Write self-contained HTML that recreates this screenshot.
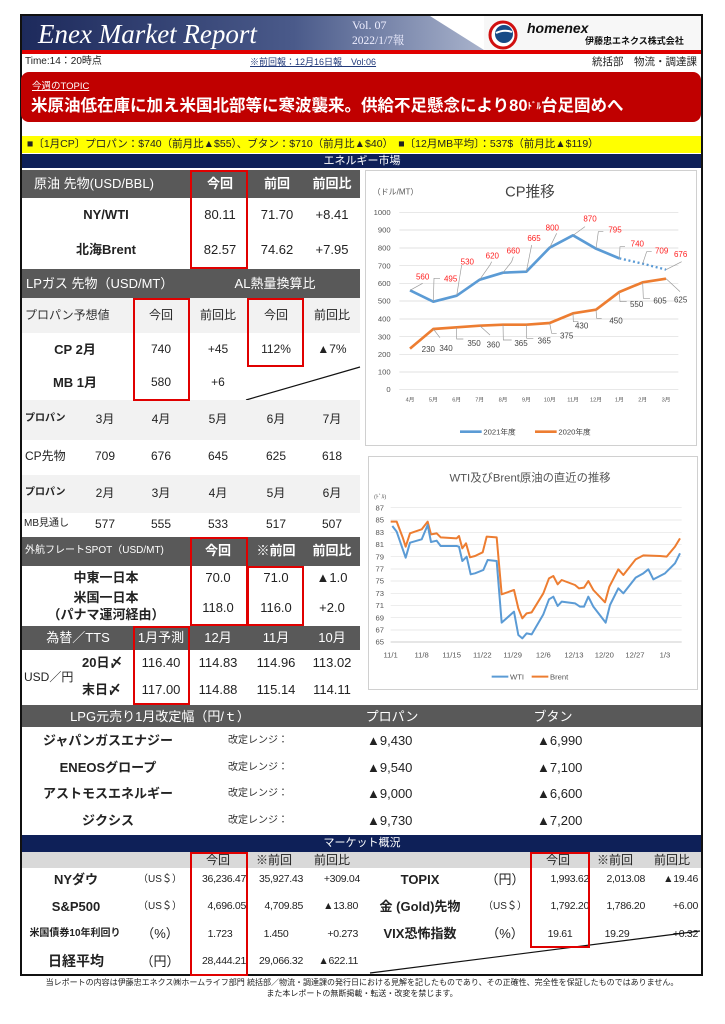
<!DOCTYPE html>
<html><head><meta charset="utf-8">
<style>
*{margin:0;padding:0;box-sizing:border-box}
body{width:725px;height:1024px;background:#fff;position:relative;overflow:hidden;font-family:"Liberation Sans","Noto Sans CJK JP",sans-serif;color:#222}
.a{position:absolute;white-space:nowrap}
.c{position:absolute;white-space:nowrap;transform:translateX(-50%)}
.r{position:absolute;white-space:nowrap;transform:translateX(-100%)}
.bg{position:absolute}
.hd{background:#595959;color:#fff}
.box{position:absolute;border:2px solid #e00000}
.t13{font-size:13px;line-height:16px}
.t12{font-size:12px;line-height:15px}
.b{font-weight:bold}
.m{font-size:10.5px;line-height:13px;letter-spacing:-0.3px}
</style></head><body>
<div class="bg" style="left:20px;top:14px;width:683px;height:962px;border:2px solid #111"></div>
<div class="bg" style="left:22px;top:16px;width:679px;height:34px;background:linear-gradient(90deg,#1d2a5c 0%,#4a5a8a 40%,#a9b3cc 68%,#c9cfdd 100%)"></div>
<svg class="bg" style="left:420px;top:16px" width="281" height="34"><polygon points="10,0 281,0 281,34 64,34" fill="#fff"/><rect x="64" y="0" width="217" height="34" fill="#f7f7f7"/></svg>
<div class="a" style="left:38px;top:18px;font-family:'Liberation Serif',serif;font-style:italic;font-size:27px;color:#fff;line-height:32px">Enex Market Report</div>
<div class="a" style="left:352px;top:18px;font-family:'Liberation Serif','Noto Serif CJK SC',serif;font-size:12px;color:#eef;line-height:14px">Vol. 07</div>
<div class="a" style="left:352px;top:34px;font-family:'Liberation Serif','Noto Serif CJK SC',serif;font-size:11.5px;color:#eef;line-height:14px">2022/1/7報</div>
<svg class="bg" style="left:488px;top:20px" width="30" height="30"><circle cx="15" cy="15" r="13" fill="#fff" stroke="#d01010" stroke-width="3"/><circle cx="16" cy="14" r="9" fill="#174a86"/><path d="M8 13 Q16 9 24 12" stroke="#fff" stroke-width="2" fill="none"/></svg>
<div class="a" style="left:527px;top:20px;font-size:14px;font-weight:bold;font-style:italic;color:#111;line-height:16px">homenex</div>
<div class="a" style="left:585px;top:36px;font-size:9px;font-weight:bold;color:#111;line-height:11px">伊藤忠エネクス株式会社</div>
<div class="bg" style="left:22px;top:50px;width:679px;height:4px;background:#e00000"></div>
<div class="a" style="left:25px;top:56px;font-size:10px;line-height:12px">Time:14：20時点</div>
<div class="a" style="left:250px;top:57px;font-size:9px;line-height:11px;color:#223a7a;text-decoration:underline">※前回報：12月16日報　Vol:06</div>
<div class="r" style="left:697px;top:56px;font-size:10.5px;line-height:12px">統括部　物流・調達課</div>
<div class="bg" style="left:21px;top:72px;width:680px;height:50px;background:#c00000;border-radius:8px"></div>
<div class="a" style="left:32px;top:81px;font-size:9.5px;line-height:11px;color:#fff;text-decoration:underline">今週のTOPIC</div>
<div class="a" style="left:31px;top:95px;font-size:16.5px;line-height:22px;color:#fff;font-weight:bold">米原油低在庫に加え米国北部等に寒波襲来。供給不足懸念により80<span style="font-size:9px;vertical-align:top">ﾄﾞﾙ</span>台足固めへ</div>
<div class="bg" style="left:22px;top:136px;width:679px;height:17px;background:#ffff00"></div>
<div class="a" style="left:27px;top:138px;font-size:10.5px;line-height:13px">■〔1月CP〕プロパン：$740（前月比▲$55）、ブタン：$710（前月比▲$40）　■〔12月MB平均〕：537$（前月比▲$119）</div>
<div class="bg" style="left:22px;top:154px;width:679px;height:14px;background:#0e2058"></div>
<div class="c" style="left:362px;top:154px;font-size:11px;line-height:14px;color:#fff">エネルギー市場</div>

<div class="bg hd" style="left:22px;top:170px;width:338px;height:28px"></div>
<div class="a t13" style="left:34px;top:176px;color:#fff">原油 先物(USD/BBL)</div>
<div class="c t13 b" style="left:220px;top:176px;color:#fff">今回</div>
<div class="c t13 b" style="left:277px;top:176px;color:#fff">前回</div>
<div class="c t13 b" style="left:332px;top:176px;color:#fff">前回比</div>
<div class="c t13 b" style="left:106px;top:207px">NY/WTI</div>
<div class="c t13" style="left:220px;top:207px">80.11</div>
<div class="c t13" style="left:277px;top:207px">71.70</div>
<div class="c t13" style="left:332px;top:207px">+8.41</div>
<div class="c t13 b" style="left:106px;top:242px">北海Brent</div>
<div class="c t13" style="left:220px;top:242px">82.57</div>
<div class="c t13" style="left:277px;top:242px">74.62</div>
<div class="c t13" style="left:332px;top:242px">+7.95</div>
<div class="bg hd" style="left:22px;top:269px;width:338px;height:29px"></div>
<div class="a t13" style="left:26px;top:276px;color:#fff">LPガス 先物（USD/MT）</div>
<div class="c t13" style="left:275px;top:276px;color:#fff">AL熱量換算比</div>
<div class="bg" style="left:22px;top:298px;width:338px;height:35px;background:#f2f2f2"></div>
<div class="a t12" style="left:25px;top:308px;color:#333">プロパン予想値</div>
<div class="c t12" style="left:161px;top:308px">今回</div>
<div class="c t12" style="left:218px;top:308px">前回比</div>
<div class="c t12" style="left:276px;top:308px">今回</div>
<div class="c t12" style="left:332px;top:308px">前回比</div>
<div class="c t13 b" style="left:75px;top:342px">CP 2月</div>
<div class="c t12" style="left:161px;top:342px">740</div>
<div class="c t12" style="left:218px;top:342px">+45</div>
<div class="c t12" style="left:276px;top:342px">112%</div>
<div class="c t12" style="left:332px;top:342px">▲7%</div>
<div class="c t13 b" style="left:75px;top:375px">MB 1月</div>
<div class="c t12" style="left:161px;top:375px">580</div>
<div class="c t12" style="left:218px;top:375px">+6</div>
<svg class="bg" style="left:240px;top:360px" width="122" height="42"><line x1="6" y1="40" x2="120" y2="7" stroke="#111" stroke-width="1.2"/></svg>
<div class="bg" style="left:22px;top:400px;width:338px;height:40px;background:#f2f2f2"></div>
<div class="bg" style="left:22px;top:475px;width:338px;height:38px;background:#f2f2f2"></div>
<div class="a b" style="left:25px;top:413px;font-size:10px;line-height:12px">プロパン</div>
<div class="c t12" style="left:105px;top:412px">3月</div><div class="c t12" style="left:161px;top:412px">4月</div><div class="c t12" style="left:218px;top:412px">5月</div><div class="c t12" style="left:276px;top:412px">6月</div><div class="c t12" style="left:332px;top:412px">7月</div>
<div class="a t12" style="left:25px;top:449px">CP先物</div>
<div class="c t12" style="left:105px;top:449px">709</div><div class="c t12" style="left:161px;top:449px">676</div><div class="c t12" style="left:218px;top:449px">645</div><div class="c t12" style="left:276px;top:449px">625</div><div class="c t12" style="left:332px;top:449px">618</div>
<div class="a b" style="left:25px;top:487px;font-size:10px;line-height:12px">プロパン</div>
<div class="c t12" style="left:105px;top:486px">2月</div><div class="c t12" style="left:161px;top:486px">3月</div><div class="c t12" style="left:218px;top:486px">4月</div><div class="c t12" style="left:276px;top:486px">5月</div><div class="c t12" style="left:332px;top:486px">6月</div>
<div class="a" style="left:24px;top:518px;font-size:10px;line-height:12px">MB見通し</div>
<div class="c t12" style="left:105px;top:517px">577</div><div class="c t12" style="left:161px;top:517px">555</div><div class="c t12" style="left:218px;top:517px">533</div><div class="c t12" style="left:276px;top:517px">517</div><div class="c t12" style="left:332px;top:517px">507</div>
<div class="bg hd" style="left:22px;top:537px;width:338px;height:29px"></div>
<div class="a" style="left:25px;top:545px;font-size:10px;line-height:12px;color:#fff">外航フレートSPOT（USD/MT)</div>
<div class="c t13 b" style="left:218px;top:543px;color:#fff">今回</div>
<div class="c t13 b" style="left:276px;top:543px;color:#fff">※前回</div>
<div class="c t13 b" style="left:332px;top:543px;color:#fff">前回比</div>
<div class="c t13 b" style="left:106px;top:570px">中東一日本</div>
<div class="c t13" style="left:218px;top:570px">70.0</div><div class="c t13" style="left:276px;top:570px">71.0</div><div class="c t13" style="left:332px;top:570px">▲1.0</div>
<div class="c t13 b" style="left:106px;top:590px">米国一日本</div>
<div class="c t13 b" style="left:106px;top:607px">（パナマ運河経由）</div>
<div class="c t13" style="left:218px;top:600px">118.0</div><div class="c t13" style="left:276px;top:600px">116.0</div><div class="c t13" style="left:332px;top:600px">+2.0</div>
<div class="bg hd" style="left:22px;top:626px;width:338px;height:24px"></div>
<div class="c t13" style="left:78px;top:630px;color:#fff">為替／TTS</div>
<div class="c t13" style="left:161px;top:630px;color:#fff">1月予測</div>
<div class="c t13" style="left:218px;top:630px;color:#fff">12月</div>
<div class="c t13" style="left:276px;top:630px;color:#fff">11月</div>
<div class="c t13" style="left:332px;top:630px;color:#fff">10月</div>
<div class="a t12" style="left:24px;top:670px">USD／円</div>
<div class="a t13 b" style="left:82px;top:655px">20日〆</div>
<div class="a t13 b" style="left:82px;top:682px">末日〆</div>
<div class="c t13" style="left:161px;top:655px">116.40</div><div class="c t13" style="left:218px;top:655px">114.83</div><div class="c t13" style="left:276px;top:655px">114.96</div><div class="c t13" style="left:332px;top:655px">113.02</div>
<div class="c t13" style="left:161px;top:682px">117.00</div><div class="c t13" style="left:218px;top:682px">114.88</div><div class="c t13" style="left:276px;top:682px">115.14</div><div class="c t13" style="left:332px;top:682px">114.11</div>

<div class="box" style="left:190px;top:170px;width:58px;height:99px"></div>
<div class="box" style="left:133px;top:298px;width:57px;height:103px"></div>
<div class="box" style="left:247px;top:298px;width:57px;height:69px"></div>
<div class="box" style="left:190px;top:537px;width:58px;height:89px"></div>
<div class="box" style="left:247px;top:566px;width:57px;height:60px"></div>
<div class="box" style="left:133px;top:626px;width:57px;height:79px"></div>

<div class="bg" style="left:365px;top:170px;width:332px;height:276px;border:1px solid #d0d0d0"></div>
<svg class="bg" style="left:360px;top:165px" width="340" height="285" viewBox="0 0 1020 855" font-family="Liberation Sans, Noto Sans CJK JP, sans-serif">
<g stroke="#d9d9d9" stroke-width="2">
<line x1="118" x2="955" y1="142" y2="142"/><line x1="118" x2="955" y1="195" y2="195"/><line x1="118" x2="955" y1="249" y2="249"/><line x1="118" x2="955" y1="302" y2="302"/><line x1="118" x2="955" y1="355" y2="355"/><line x1="118" x2="955" y1="408" y2="408"/><line x1="118" x2="955" y1="462" y2="462"/><line x1="118" x2="955" y1="515" y2="515"/><line x1="118" x2="955" y1="568" y2="568"/><line x1="118" x2="955" y1="621" y2="621"/><line x1="118" x2="955" y1="673" y2="673"/></g>
<g font-size="23" fill="#555" text-anchor="end">
<text x="92" y="150">1000</text><text x="92" y="203">900</text><text x="92" y="257">800</text><text x="92" y="310">700</text><text x="92" y="363">600</text><text x="92" y="416">500</text><text x="92" y="470">400</text><text x="92" y="523">300</text><text x="92" y="576">200</text><text x="92" y="629">100</text><text x="92" y="681">0</text></g>
<g font-size="17" fill="#555" text-anchor="middle">
<text x="150" y="710">4月</text><text x="220" y="710">5月</text><text x="290" y="710">6月</text><text x="359" y="710">7月</text><text x="429" y="710">8月</text><text x="499" y="710">9月</text><text x="569" y="710">10月</text><text x="639" y="710">11月</text><text x="708" y="710">12月</text><text x="778" y="710">1月</text><text x="848" y="710">2月</text><text x="918" y="710">3月</text></g>
<text x="510" y="95" font-size="44" fill="#444" text-anchor="middle">CP推移</text>
<text x="38" y="88" font-size="24" fill="#555">（ドル/MT）</text>
<polyline fill="none" stroke="#5b9bd5" stroke-width="8" stroke-linejoin="round" points="150,376 220,410 290,392 359,344 429,323 499,320 569,248 639,211 708,251 778,280"/>
<polyline fill="none" stroke="#5b9bd5" stroke-width="7" stroke-dasharray="6,8" points="778,280 848,296 918,314"/>
<polyline fill="none" stroke="#ed7d31" stroke-width="8" stroke-linejoin="round" points="150,551 220,492 290,487 359,482 429,479 499,479 569,474 639,445 708,434 778,381 848,352 918,341"/>
<g stroke="#999" stroke-width="2" fill="none">
<polyline points="150,376 188,355"/><polyline points="220,410 222,340 240,340"/><polyline points="290,392 305,300"/><polyline points="359,344 390,300 395,290"/><polyline points="429,323 455,290 460,275"/><polyline points="499,320 515,240"/><polyline points="569,248 590,205"/><polyline points="639,211 675,185"/><polyline points="708,251 715,200 730,200"/><polyline points="778,280 780,245 795,245"/><polyline points="848,296 860,260 875,260"/><polyline points="918,314 965,290"/>
<polyline points="220,492 240,518"/><polyline points="290,487 290,522 310,522"/><polyline points="359,482 390,510"/><polyline points="429,479 430,525 455,525"/><polyline points="499,479 500,520 520,520"/><polyline points="569,474 575,505 590,505"/><polyline points="639,445 640,470 655,470"/><polyline points="708,434 710,460 725,460"/><polyline points="778,381 780,410 800,410"/><polyline points="848,352 850,400 870,400"/><polyline points="918,341 960,380"/></g>
<g font-size="24" fill="#ff2020" text-anchor="middle">
<text x="188" y="343">560</text><text x="272" y="350">495</text><text x="322" y="298">530</text><text x="397" y="280">620</text><text x="460" y="265">660</text><text x="522" y="228">665</text><text x="577" y="196">800</text><text x="690" y="170">870</text><text x="765" y="203">795</text><text x="832" y="245">740</text><text x="905" y="266">709</text><text x="962" y="276">676</text></g>
<g font-size="24" fill="#444" text-anchor="middle">
<text x="205" y="561">230</text><text x="258" y="558">340</text><text x="342" y="543">350</text><text x="400" y="548">360</text><text x="483" y="543">365</text><text x="553" y="536">365</text><text x="620" y="520">375</text><text x="665" y="490">430</text><text x="768" y="476">450</text><text x="830" y="426">550</text><text x="900" y="416">605</text><text x="962" y="413">625</text></g>
<line x1="300" y1="800" x2="365" y2="800" stroke="#5b9bd5" stroke-width="8"/>
<text x="370" y="808" font-size="23" fill="#444">2021年度</text>
<line x1="525" y1="800" x2="590" y2="800" stroke="#ed7d31" stroke-width="8"/>
<text x="595" y="808" font-size="23" fill="#444">2020年度</text>
</svg>

<div class="bg" style="left:368px;top:456px;width:330px;height:234px;border:1px solid #d0d0d0"></div>
<svg class="bg" style="left:360px;top:450px" width="340" height="260" viewBox="0 0 1020 780" font-family="Liberation Sans, Noto Sans CJK JP, sans-serif">
<g stroke="#e2e2e2" stroke-width="2">
<line x1="92" x2="965" y1="173" y2="173"/><line x1="92" x2="965" y1="210" y2="210"/><line x1="92" x2="965" y1="247" y2="247"/><line x1="92" x2="965" y1="283" y2="283"/><line x1="92" x2="965" y1="320" y2="320"/><line x1="92" x2="965" y1="357" y2="357"/><line x1="92" x2="965" y1="393" y2="393"/><line x1="92" x2="965" y1="430" y2="430"/><line x1="92" x2="965" y1="466" y2="466"/><line x1="92" x2="965" y1="503" y2="503"/><line x1="92" x2="965" y1="540" y2="540"/></g>
<line x1="92" x2="965" y1="576" y2="576" stroke="#bbb" stroke-width="2"/>
<g font-size="23" fill="#555" text-anchor="end">
<text x="72" y="181">87</text><text x="72" y="218">85</text><text x="72" y="255">83</text><text x="72" y="291">81</text><text x="72" y="328">79</text><text x="72" y="365">77</text><text x="72" y="401">75</text><text x="72" y="438">73</text><text x="72" y="474">71</text><text x="72" y="511">69</text><text x="72" y="548">67</text><text x="72" y="584">65</text></g>
<text x="42" y="145" font-size="17" fill="#555">(ﾄﾞﾙ)</text>
<g font-size="23" fill="#555" text-anchor="middle">
<text x="92" y="622">11/1</text><text x="185" y="622">11/8</text><text x="275" y="622">11/15</text><text x="367" y="622">11/22</text><text x="458" y="622">11/29</text><text x="550" y="622">12/6</text><text x="642" y="622">12/13</text><text x="733" y="622">12/20</text><text x="825" y="622">12/27</text><text x="915" y="622">1/3</text></g>
<text x="510" y="95" font-size="34" fill="#555" text-anchor="middle">WTI及びBrent原油の直近の推移</text>
<polyline fill="none" stroke="#ed7d31" stroke-width="6" stroke-linejoin="round" points="92,215 110,215 128,262 137,290 150,250 185,238 203,215 213,253 230,250 242,262 290,265 297,258 307,295 318,280 330,322 345,318 368,307 380,260 410,262 425,433 462,420 475,475 487,505 500,490 515,487 550,430 567,385 580,378 593,403 605,390 645,405 657,415 672,413 685,393 700,420 735,457 748,410 775,358 790,375 827,328 850,316 900,318 920,320 945,290 960,265"/>
<polyline fill="none" stroke="#5b9bd5" stroke-width="6" stroke-linejoin="round" points="97,228 110,245 137,323 150,278 185,268 203,225 213,276 230,272 242,288 290,288 297,290 307,333 320,320 332,373 345,370 370,360 383,330 410,333 425,518 462,485 475,555 487,565 500,550 515,553 550,493 567,448 580,440 593,468 605,455 645,460 660,470 672,470 685,440 700,470 737,518 750,465 775,415 790,430 827,383 850,370 865,358 880,388 915,370 945,340 960,310"/>
<line x1="395" y1="680" x2="445" y2="680" stroke="#5b9bd5" stroke-width="6"/>
<text x="450" y="688" font-size="23" fill="#555">WTI</text>
<line x1="515" y1="680" x2="565" y2="680" stroke="#ed7d31" stroke-width="6"/>
<text x="570" y="688" font-size="23" fill="#555">Brent</text>
</svg>

<div class="bg hd" style="left:22px;top:705px;width:679px;height:22px"></div>
<div class="c t13" style="left:160px;top:709px;color:#fff">LPG元売り1月改定幅（円/ｔ）</div>
<div class="c t13" style="left:392px;top:709px;color:#fff">プロパン</div>
<div class="c t13" style="left:553px;top:709px;color:#fff">ブタン</div>
<div class="c t13 b" style="left:108px;top:733px">ジャパンガスエナジー</div>
<div class="c t13 b" style="left:108px;top:760px">ENEOSグロープ</div>
<div class="c t13 b" style="left:108px;top:786px">アストモスエネルギー</div>
<div class="c t13 b" style="left:108px;top:813px">ジクシス</div>
<div class="a" style="left:228px;top:735px;font-size:10px;line-height:12px;color:#333">改定レンジ：</div>
<div class="a" style="left:228px;top:762px;font-size:10px;line-height:12px;color:#333">改定レンジ：</div>
<div class="a" style="left:228px;top:788px;font-size:10px;line-height:12px;color:#333">改定レンジ：</div>
<div class="a" style="left:228px;top:815px;font-size:10px;line-height:12px;color:#333">改定レンジ：</div>
<div class="a t13" style="left:367px;top:733px">▲9,430</div><div class="a t13" style="left:537px;top:733px">▲6,990</div>
<div class="a t13" style="left:367px;top:760px">▲9,540</div><div class="a t13" style="left:537px;top:760px">▲7,100</div>
<div class="a t13" style="left:367px;top:786px">▲9,000</div><div class="a t13" style="left:537px;top:786px">▲6,600</div>
<div class="a t13" style="left:367px;top:813px">▲9,730</div><div class="a t13" style="left:537px;top:813px">▲7,200</div>

<div class="bg" style="left:22px;top:835px;width:679px;height:17px;background:#0e2058"></div>
<div class="c" style="left:362px;top:836px;font-size:11px;line-height:14px;color:#fff">マーケット概況</div>
<div class="bg" style="left:22px;top:852px;width:679px;height:16px;background:#d9d9d9"></div>
<div class="c t12" style="left:218px;top:853px">今回</div><div class="c t12" style="left:274px;top:853px">※前回</div><div class="c t12" style="left:332px;top:853px">前回比</div>
<div class="c t12" style="left:558px;top:853px">今回</div><div class="c t12" style="left:615px;top:853px">※前回</div><div class="c t12" style="left:672px;top:853px">前回比</div>
<div class="c t13 b" style="left:76px;top:872px">NYダウ</div>
<div class="c t13 b" style="left:76px;top:899px">S&amp;P500</div>
<div class="c b" style="left:75px;top:928px;font-size:10px;line-height:12px">米国債券10年利回り</div>
<div class="c b" style="left:76px;top:953px;font-size:14px;line-height:17px">日経平均</div>
<div class="c" style="left:160px;top:873px;font-size:10px;line-height:13px">（US＄）</div>
<div class="c" style="left:160px;top:900px;font-size:10px;line-height:13px">（US＄）</div>
<div class="c t13" style="left:160px;top:926px">（%）</div>
<div class="c t13" style="left:160px;top:954px">（円）</div>
<div class="r m" style="left:246px;top:873px">36,236.47</div><div class="r m" style="left:303px;top:873px">35,927.43</div><div class="r m" style="left:360px;top:873px">+309.04</div>
<div class="r m" style="left:246px;top:900px">4,696.05</div><div class="r m" style="left:303px;top:900px">4,709.85</div><div class="r m" style="left:358px;top:900px">▲13.80</div>
<div class="c m" style="left:220px;top:928px">1.723</div><div class="c m" style="left:276px;top:928px">1.450</div><div class="r m" style="left:358px;top:928px">+0.273</div>
<div class="r m" style="left:246px;top:955px">28,444.21</div><div class="r m" style="left:303px;top:955px">29,066.32</div><div class="r m" style="left:358px;top:955px">▲622.11</div>
<div class="c t13 b" style="left:420px;top:872px">TOPIX</div>
<div class="c t13 b" style="left:420px;top:899px">金 (Gold)先物</div>
<div class="c t13 b" style="left:420px;top:926px">VIX恐怖指数</div>
<div class="c t13" style="left:505px;top:872px">（円）</div>
<div class="c" style="left:505px;top:900px;font-size:10px;line-height:13px">（US＄）</div>
<div class="c t13" style="left:505px;top:926px">（%）</div>
<div class="r m" style="left:589px;top:873px">1,993.62</div><div class="r m" style="left:645px;top:873px">2,013.08</div><div class="r m" style="left:698px;top:873px">▲19.46</div>
<div class="r m" style="left:589px;top:900px">1,792.20</div><div class="r m" style="left:645px;top:900px">1,786.20</div><div class="r m" style="left:698px;top:900px">+6.00</div>
<div class="c m" style="left:560px;top:928px">19.61</div><div class="c m" style="left:617px;top:928px">19.29</div><div class="r m" style="left:698px;top:928px">+0.32</div>
<svg class="bg" style="left:360px;top:925px" width="342" height="50"><line x1="10" y1="48" x2="340" y2="6" stroke="#111" stroke-width="1.2"/></svg>
<div class="box" style="left:190px;top:852px;width:58px;height:124px"></div>
<div class="box" style="left:530px;top:852px;width:60px;height:96px"></div>

<div class="c" style="left:362px;top:978px;font-size:8px;line-height:10px">当レポートの内容は伊藤忠エネクス㈱ホームライフ部門 統括部／物流・調達課の発行日における見解を記したものであり、その正確性、完全性を保証したものではありません。</div>
<div class="c" style="left:362px;top:989px;font-size:8px;line-height:10px">また本レポートの無断掲載・転送・改変を禁じます。</div>
</body></html>
